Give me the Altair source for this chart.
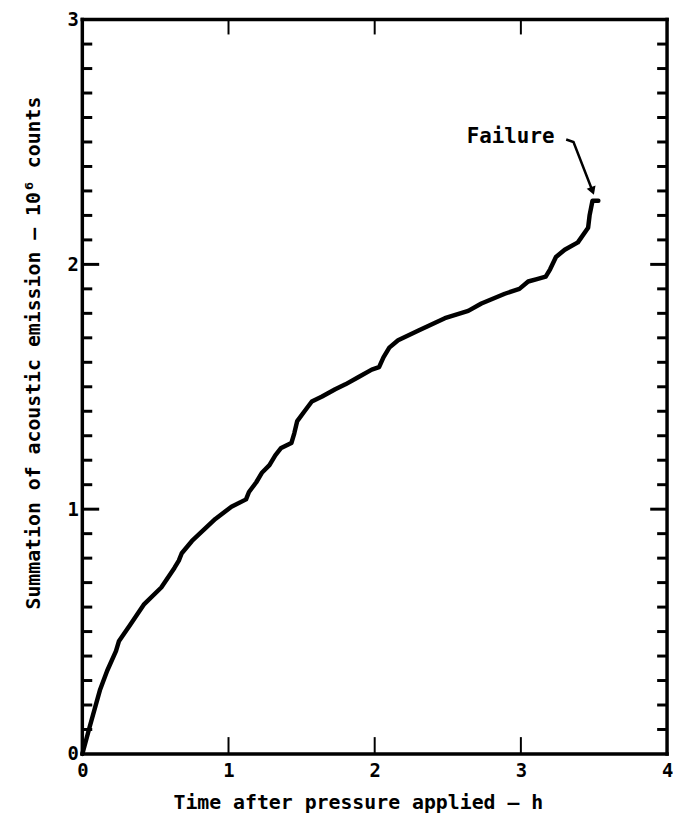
import altair as alt
import pandas as pd

# Curve (time in h, summation in 10^6 counts)
time_h = [0.00, 0.05, 0.12, 0.17, 0.23, 0.25, 0.33, 0.42, 0.54, 0.63, 0.66, 0.68,
          0.75, 0.91, 1.02, 1.12, 1.14, 1.19, 1.23, 1.28, 1.32, 1.36, 1.43, 1.45,
          1.47, 1.52, 1.57, 1.64, 1.73, 1.80, 1.89, 1.98, 2.03, 2.06, 2.10, 2.16,
          2.30, 2.48, 2.64, 2.73, 2.89, 2.99, 3.05, 3.11, 3.17, 3.20, 3.24, 3.30,
          3.39, 3.46, 3.47, 3.49, 3.53]
counts = [0.00, 0.11, 0.26, 0.34, 0.42, 0.46, 0.53, 0.61, 0.68, 0.76, 0.79, 0.82,
          0.87, 0.96, 1.01, 1.04, 1.07, 1.11, 1.15, 1.18, 1.22, 1.25, 1.27, 1.31,
          1.36, 1.40, 1.44, 1.46, 1.49, 1.51, 1.54, 1.57, 1.58, 1.62, 1.66, 1.69,
          1.73, 1.78, 1.81, 1.84, 1.88, 1.90, 1.93, 1.94, 1.95, 1.98, 2.03, 2.06,
          2.09, 2.15, 2.20, 2.26, 2.26]

x_ticks = [0, 1, 2, 3, 4]
y_ticks = [0, 1, 2, 3]
x_major_inner = [1, 2, 3]
y_major_inner = [1, 2]
y_minor = [round(i / 10, 1) for i in range(1, 30) if i % 10 != 0]

note_text = ["Failure"]
note_x = [2.63]
note_y = [2.52]
arrow_x = [3.31, 3.36, 3.49]
arrow_y = [2.51, 2.50, 2.30]

W, H = 590, 741
FONT = "DejaVu Sans Mono"

xs = alt.Scale(domain=[0, 4], nice=False, zero=False)
ys = alt.Scale(domain=[0, 3], nice=False, zero=False)

curve_df = pd.DataFrame({"t": time_h, "c": counts, "i": range(len(time_h))})

base_x = alt.X("t:Q", scale=xs, axis=alt.Axis(
    values=x_ticks, format="d", ticks=False, domain=False, grid=False, labelFlush=False,
    labelFont=FONT, labelFontWeight="bold", labelFontSize=19, labelColor="black",
    labelPadding=8, title="Time after pressure applied \u2014 h", titleFont=FONT,
    titleFontWeight="bold", titleFontSize=20, titleColor="black", titlePadding=12,
    titleX=278))
base_y = alt.Y("c:Q", scale=ys, axis=alt.Axis(
    values=y_ticks, format="d", ticks=False, domain=False, grid=False, labelFlush=False,
    labelFont=FONT, labelFontWeight="bold", labelFontSize=19, labelColor="black",
    labelPadding=4, title="Summation of acoustic emission \u2014 10\u2076 counts",
    titleFont=FONT, titleFontWeight="bold", titleFontSize=20, titleColor="black",
    titlePadding=24, titleY=336))

curve = alt.Chart(curve_df).mark_line(
    color="black", strokeWidth=4.5, strokeCap="round", strokeJoin="round"
).encode(x=base_x, y=base_y, order="i:Q")

ymin_df = pd.DataFrame({"v": y_minor})
ymaj_df = pd.DataFrame({"v": y_major_inner})
xmaj_df = pd.DataFrame({"v": x_major_inner})

def yt(df, x0, x1):
    return alt.Chart(df).mark_rule(color="black", strokeWidth=3).encode(
        y=alt.Y("v:Q", scale=ys), x=alt.value(x0), x2=alt.value(x1))

def xt(df, y0, y1):
    return alt.Chart(df).mark_rule(color="black", strokeWidth=2).encode(
        x=alt.X("v:Q", scale=xs), y=alt.value(y0), y2=alt.value(y1))

ticks = [
    yt(ymin_df, 0, 10), yt(ymaj_df, 0, 17),
    yt(ymin_df, W, W - 10), yt(ymaj_df, W, W - 17),
    xt(xmaj_df, H, H - 17), xt(xmaj_df, 0, 15),
]

frame_df = pd.DataFrame({"v": [0]})
frame = [
    alt.Chart(frame_df).mark_rule(color="black", strokeWidth=3.5, strokeCap="square").encode(
        x=alt.value(0), x2=alt.value(W), y=alt.value(0)),
    alt.Chart(frame_df).mark_rule(color="black", strokeWidth=3.5, strokeCap="square").encode(
        x=alt.value(0), x2=alt.value(W), y=alt.value(H)),
    alt.Chart(frame_df).mark_rule(color="black", strokeWidth=3.5, strokeCap="square").encode(
        x=alt.value(0), y=alt.value(0), y2=alt.value(H)),
    alt.Chart(frame_df).mark_rule(color="black", strokeWidth=3.5, strokeCap="square").encode(
        x=alt.value(W), y=alt.value(0), y2=alt.value(H)),
]

note = alt.Chart(pd.DataFrame({"t": note_x, "c": note_y, "s": note_text})).mark_text(
    align="left", baseline="middle", font=FONT, fontWeight="bold", fontSize=21,
    color="black").encode(x=alt.X("t:Q", scale=xs), y=alt.Y("c:Q", scale=ys), text="s:N")

arrow_df = pd.DataFrame({"t": arrow_x, "c": arrow_y, "i": range(len(arrow_x))})
arrow = alt.Chart(arrow_df).mark_line(color="black", strokeWidth=2.5).encode(
    x=alt.X("t:Q", scale=xs), y=alt.Y("c:Q", scale=ys), order="i:Q")
head = alt.Chart(arrow_df.tail(1)).mark_point(
    shape="triangle-up", filled=True, color="black", size=90, angle=160, opacity=1
).encode(x=alt.X("t:Q", scale=xs), y=alt.Y("c:Q", scale=ys))

chart = alt.layer(curve, *ticks, *frame, arrow, head, note).properties(
    width=W, height=H,
    autosize=alt.AutoSizeParams(type="none"),
    padding={"left": 75, "top": 8, "right": 6, "bottom": 70},
).configure_view(strokeWidth=0).configure(background="white")

chart.save("out.html", embed_options={"renderer": "svg", "actions": False})
